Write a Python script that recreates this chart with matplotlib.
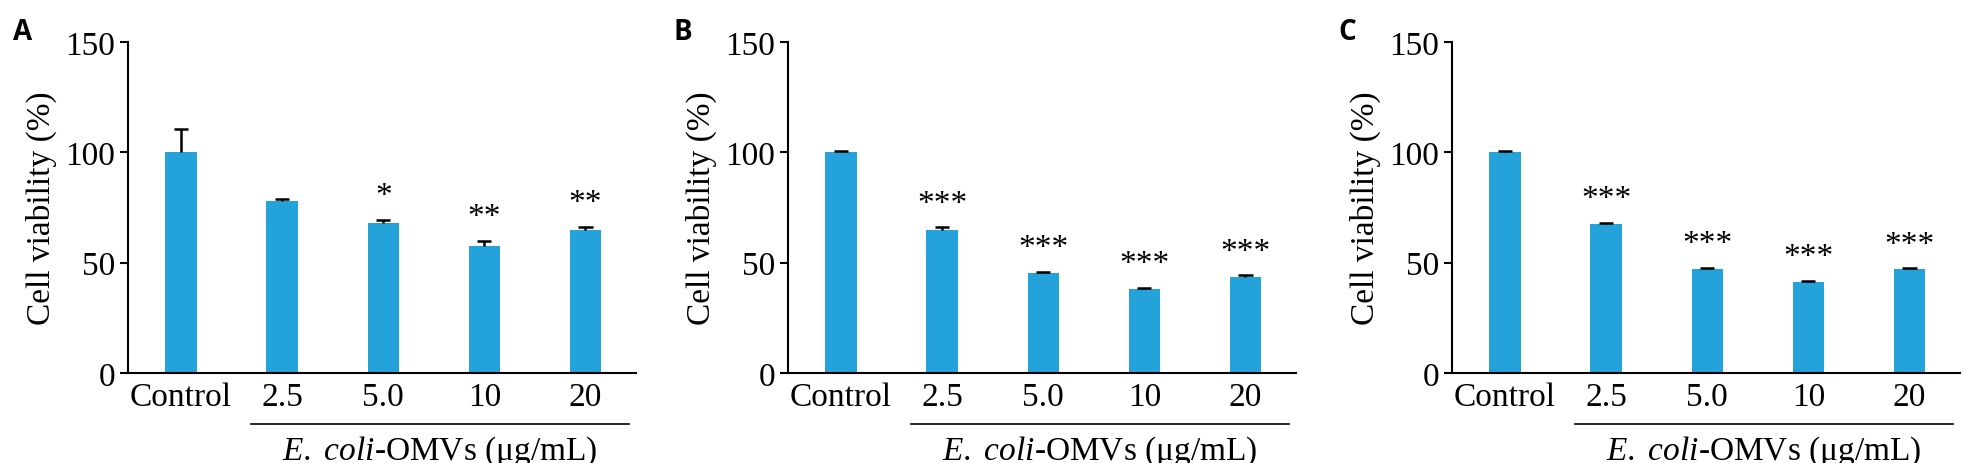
import matplotlib
matplotlib.use("Agg")
import matplotlib.pyplot as plt
from matplotlib.lines import Line2D

plt.rcParams["mathtext.fontset"] = "custom"
plt.rcParams["mathtext.rm"] = "Liberation Serif"
plt.rcParams["mathtext.it"] = "Liberation Serif:italic"

categories = ["Control", "2.5", "5.0", "10", "20"]
panels = ["A", "B", "C"]
vals_A = [100, 78, 68, 57.5, 65]
errs_A = [10.5, 1.0, 1.5, 2.5, 1.2]
sig_A = ["", "", "*", "**", "**"]
vals_B = [100, 65, 45.2, 38, 43.5]
errs_B = [0.5, 1.0, 0.7, 0.6, 0.7]
sig_B = ["", "***", "***", "***", "***"]
vals_C = [100, 67.5, 47, 41.2, 47]
errs_C = [0.6, 0.5, 0.6, 0.6, 0.4]
sig_C = ["", "***", "***", "***", "***"]
yticks = [0, 50, 100, 150]

serif = "Liberation Serif"
fig = plt.figure(figsize=(19.72, 4.64), dpi=100)
lefts = [128, 788, 1452]
for left, p, vals, errs, sig in zip(lefts, panels, [vals_A, vals_B, vals_C],
                                     [errs_A, errs_B, errs_C], [sig_A, sig_B, sig_C]):
    ax = fig.add_axes([left / 1972, 0.194, 508 / 1972, 0.713])
    x = list(range(len(categories)))
    ax.bar(x, vals, width=0.31, color="#23a3d9", zorder=2)
    tops = [v + e for v, e in zip(vals, errs)]
    ax.vlines(x, vals, tops, color="black", lw=1.8, zorder=3)
    ax.hlines(tops, [xi - 0.07 for xi in x], [xi + 0.07 for xi in x], color="black", lw=1.8, zorder=3)
    for xi, t, s in zip(x, tops, sig):
        if s:
            ax.text(xi, t + 4, s, ha="center", va="bottom", fontsize=24, family=serif)
    ax.set_xlim(-0.525, 4.5)
    ax.set_ylim(0, 150)
    ax.set_yticks(yticks)
    ax.set_xticks(x)
    ax.set_xticklabels(categories, family=serif, fontsize=24)
    ax.tick_params(axis="x", length=0, pad=6)
    ax.tick_params(axis="y", length=6, width=1.5, labelsize=24, pad=3)
    for t in ax.get_yticklabels():
        t.set_family(serif)
    for sp in ["top", "right"]:
        ax.spines[sp].set_visible(False)
    ax.spines["left"].set_linewidth(1.5)
    ax.spines["bottom"].set_linewidth(1.5)
    ax.set_ylabel("Cell viability (%)", family=serif, fontsize=24, labelpad=6)
    ax.add_line(Line2D([0.69, 4.43], [-0.154, -0.154], transform=ax.get_xaxis_transform(),
                       color="black", lw=1.2, clip_on=False))
    ax.text(2.56, -0.235, r"$\mathit{E.\ coli}$-OMVs (μg/mL)", transform=ax.get_xaxis_transform(),
            ha="center", va="center", fontsize=24, family=serif)
    fig.text((left - 105) / 1972, 0.93, p, fontsize=20, fontweight="bold",
             family="Open Sans", ha="center", va="center")

fig.savefig("out.png", dpi=100)
